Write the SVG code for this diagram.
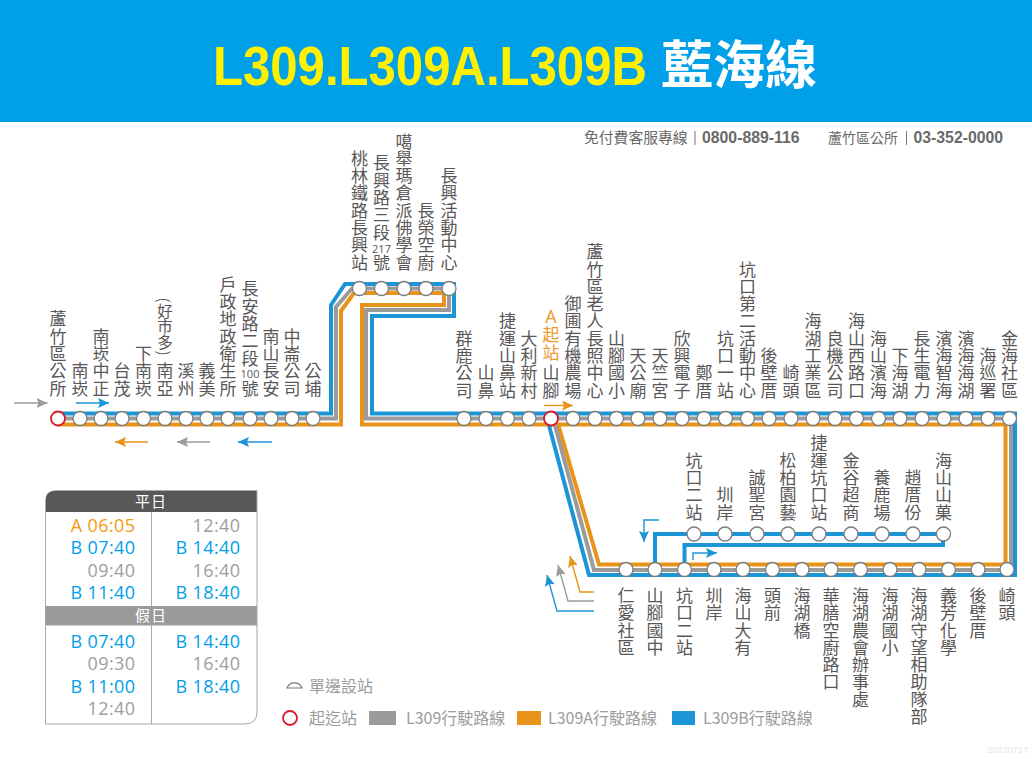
<svg xmlns="http://www.w3.org/2000/svg" width="1032" height="759" viewBox="0 0 1032 759">
<style>
text{font-family:"Noto Sans CJK TC","Liberation Sans",sans-serif}
.v{writing-mode:vertical-rl;text-orientation:upright;font-size:17px;letter-spacing:.3px;fill:#595757;text-anchor:end}
.m{text-orientation:mixed}
.t{text-anchor:start}
.n{font-family:"Open Sans",sans-serif;font-size:11px;fill:#595757;text-anchor:middle}
circle.s{fill:#fff;stroke:#7b7b7b;stroke-width:1.3}
circle.r{fill:#fff;stroke:#d8182c;stroke-width:1.8}
.route{fill:none;stroke-width:4}
.b{stroke:#1b95d6}.g{stroke:#9b9b9b}.o{stroke:#e8931a}
.a{fill:none;stroke-width:1.4}
.tm{font-family:"Open Sans",sans-serif;font-size:18px;letter-spacing:.4px;text-anchor:end}
.tb{fill:#00a0e9}.tg{fill:#9e9e9e}.to{fill:#f39a0f}
.th{font-size:15px;fill:#fff;text-anchor:middle;letter-spacing:1px}
.c{font-size:14.8px;fill:#6a6a6a}
.cb{font-family:"Liberation Sans",sans-serif;font-size:15.8px;font-weight:700;fill:#6a6a6a}
.l{font-size:16px;fill:#9c9c9c}
</style>
<defs>
<marker id="ab" markerUnits="userSpaceOnUse" markerWidth="12" markerHeight="10" refX="11" refY="5" orient="auto"><path d="M0,0L11,5L0,10L2,5Z" fill="#1b95d6"/></marker>
<marker id="ag" markerUnits="userSpaceOnUse" markerWidth="12" markerHeight="10" refX="11" refY="5" orient="auto"><path d="M0,0L11,5L0,10L2,5Z" fill="#9b9b9b"/></marker>
<marker id="ao" markerUnits="userSpaceOnUse" markerWidth="12" markerHeight="10" refX="11" refY="5" orient="auto"><path d="M0,0L11,5L0,10L2,5Z" fill="#e8931a"/></marker>
</defs>
<rect width="1032" height="759" fill="#fff"/>
<g id="header">
<rect width="1032" height="122" fill="#00a0e9"/>
<text transform="translate(213,84.500) scale(.877,1)" font-size="56" font-weight="700" fill="#fff000" style="font-family:'Liberation Sans',sans-serif">L309.L309A.L309B</text>
<text x="661" y="84" font-size="52" font-weight="700" fill="#fff">藍海線</text>
</g>
<g id="contact">
<text x="584" y="143" class="c">免付費客服專線</text><rect x="694.500" y="131" width="1" height="14" fill="#777"/>
<text x="702" y="143" class="cb">0800-889-116</text>
<text x="828" y="143" class="c" style="font-size:14px">蘆竹區公所</text><rect x="906" y="131" width="1" height="14" fill="#777"/>
<text x="913.500" y="143" class="cb">03-352-0000</text>
</g>
<g id="connectors">
<path class="route o" d="M58,424.500H341V311L354,293H444V305H362V424.500H1005.500V564.500H599L558,424"/>
<path class="route g" d="M58,418.500H336V307L352,288.500H449V310H366V418.500H1011V570H594L553,418"/>
<path class="route b" d="M58,413.500H331V305L345,284H454V316H372V413.500H1015V575H589L547,418"/>
<path class="route b" d="M655,570V534H944"/>
<path class="route b" d="M684.500,570V545H943V534"/>
<path class="a g" marker-end="url(#ag)" d="M14,403H47.500"/>
<path class="a b" marker-end="url(#ab)" d="M76,403H109"/>
<path class="a o" marker-end="url(#ao)" d="M148,442H115"/>
<path class="a g" marker-end="url(#ag)" d="M210,442H177"/>
<path class="a b" marker-end="url(#ab)" d="M272,442H238"/>
<path class="a o" marker-end="url(#ao)" d="M544,405.500H573"/>
<path class="a b" marker-end="url(#ab)" d="M659,520H644V542"/>
<path class="a b" marker-end="url(#ab)" d="M693,560V553H717"/>
<path class="a o" marker-end="url(#ao)" d="M594,592H580L570,556"/>
<path class="a g" marker-end="url(#ag)" d="M594,601H568L558,565"/>
<path class="a b" marker-end="url(#ab)" d="M594,611H557L547,575"/>
</g>
<g id="n1"><circle class="r" cx="58" cy="418.500" r="7"/><text class="v" x="58" y="397">蘆竹區公所</text></g>
<g id="n2"><circle class="s" cx="80" cy="418.500" r="7"/><text class="v" x="80" y="397">南崁</text></g>
<g id="n3"><circle class="s" cx="101" cy="418.500" r="7"/><text class="v" x="101" y="397">南崁中正</text></g>
<g id="n4"><circle class="s" cx="122" cy="418.500" r="7"/><text class="v" x="122" y="397">台茂</text></g>
<g id="n5"><circle class="s" cx="143.500" cy="418.500" r="7"/><text class="v" x="143.500" y="397">下南崁</text></g>
<g id="n6"><circle class="s" cx="165" cy="418.500" r="7"/><text class="v" x="165" y="397">南亞</text><text class="v m" x="165" y="356" style="font-size:15.5px">(好市多)</text></g>
<g id="n7"><circle class="s" cx="186" cy="418.500" r="7"/><text class="v" x="186" y="397">溪州</text></g>
<g id="n8"><circle class="s" cx="207" cy="418.500" r="7"/><text class="v" x="207" y="397">義美</text></g>
<g id="n9"><circle class="s" cx="228" cy="418.500" r="7"/><text class="v" x="228" y="397">戶政地政衛生所</text></g>
<g id="n10"><circle class="s" cx="250" cy="418.500" r="7"/><text class="v" x="250" y="367">長安路二段</text><text class="n" x="250" y="378">100</text><text class="v" x="250" y="397">號</text></g>
<g id="n11"><circle class="s" cx="271" cy="418.500" r="7"/><text class="v" x="271" y="397">南山長安</text></g>
<g id="n12"><circle class="s" cx="292" cy="418.500" r="7"/><text class="v" x="292" y="397">中崙公司</text></g>
<g id="n13"><circle class="s" cx="313" cy="418.500" r="7"/><text class="v" x="313" y="397">公埔</text></g>
<g id="n14"><circle class="s" cx="359.500" cy="288.500" r="7"/><text class="v" x="359.500" y="271">桃林鐵路長興站</text></g>
<g id="n15"><circle class="s" cx="381.500" cy="288.500" r="7"/><text class="v" x="381.500" y="241">長興路三段</text><text class="n" x="381.500" y="253">217</text><text class="v" x="381.500" y="271">號</text></g>
<g id="n16"><circle class="s" cx="404" cy="288.500" r="7"/><text class="v" x="404" y="271">噶舉瑪倉派佛學會</text></g>
<g id="n17"><circle class="s" cx="426" cy="288.500" r="7"/><text class="v" x="426" y="271">長榮空廚</text></g>
<g id="n18"><circle class="s" cx="449" cy="288.500" r="7"/><text class="v" x="449" y="271">長興活動中心</text></g>
<g id="n19"><circle class="s" cx="464" cy="418.500" r="7"/><text class="v" x="464" y="399">群鹿公司</text></g>
<g id="n20"><circle class="s" cx="486" cy="418.500" r="7"/><text class="v" x="486" y="399">山鼻</text></g>
<g id="n21"><circle class="s" cx="507.500" cy="418.500" r="7"/><text class="v" x="507.500" y="399">捷運山鼻站</text></g>
<g id="n22"><circle class="s" cx="529" cy="418.500" r="7"/><text class="v" x="529" y="399">大利新村</text></g>
<g id="n23"><circle class="r" cx="551" cy="418.500" r="7"/><text class="v" x="551" y="399">山腳</text><text class="v" x="551" y="361" style="fill:#ee9a2c">起站</text><text x="551" y="323" font-size="18" text-anchor="middle" fill="#ee9a2c" style="font-family:'Open Sans',sans-serif">A</text></g>
<g id="n24"><circle class="s" cx="573" cy="418.500" r="7"/><text class="v" x="573" y="399">御圃有機農場</text></g>
<g id="n25"><circle class="s" cx="595" cy="418.500" r="7"/><text class="v" x="595" y="399">蘆竹區老人長照中心</text></g>
<g id="n26"><circle class="s" cx="616.500" cy="418.500" r="7"/><text class="v" x="616.500" y="399">山腳國小</text></g>
<g id="n27"><circle class="s" cx="638" cy="418.500" r="7"/><text class="v" x="638" y="399">天公廟</text></g>
<g id="n28"><circle class="s" cx="660" cy="418.500" r="7"/><text class="v" x="660" y="399">天竺宮</text></g>
<g id="n29"><circle class="s" cx="682" cy="418.500" r="7"/><text class="v" x="682" y="399">欣興電子</text></g>
<g id="n30"><circle class="s" cx="704" cy="418.500" r="7"/><text class="v" x="704" y="399">鄭厝</text></g>
<g id="n31"><circle class="s" cx="725.500" cy="418.500" r="7"/><text class="v" x="725.500" y="399">坑口一站</text></g>
<g id="n32"><circle class="s" cx="747.500" cy="418.500" r="7"/><text class="v" x="747.500" y="399">坑口第二活動中心</text></g>
<g id="n33"><circle class="s" cx="769" cy="418.500" r="7"/><text class="v" x="769" y="399">後壁厝</text></g>
<g id="n34"><circle class="s" cx="791" cy="418.500" r="7"/><text class="v" x="791" y="399">崎頭</text></g>
<g id="n35"><circle class="s" cx="813" cy="418.500" r="7"/><text class="v" x="813" y="399">海湖工業區</text></g>
<g id="n36"><circle class="s" cx="835" cy="418.500" r="7"/><text class="v" x="835" y="399">良機公司</text></g>
<g id="n37"><circle class="s" cx="856.500" cy="418.500" r="7"/><text class="v" x="856.500" y="399">海山西路口</text></g>
<g id="n38"><circle class="s" cx="878.500" cy="418.500" r="7"/><text class="v" x="878.500" y="399">海山濱海</text></g>
<g id="n39"><circle class="s" cx="900" cy="418.500" r="7"/><text class="v" x="900" y="399">下海湖</text></g>
<g id="n40"><circle class="s" cx="922" cy="418.500" r="7"/><text class="v" x="922" y="399">長生電力</text></g>
<g id="n41"><circle class="s" cx="944" cy="418.500" r="7"/><text class="v" x="944" y="399">濱海智海</text></g>
<g id="n42"><circle class="s" cx="966" cy="418.500" r="7"/><text class="v" x="966" y="399">濱海海湖</text></g>
<g id="n43"><circle class="s" cx="988" cy="418.500" r="7"/><text class="v" x="988" y="399">海巡署</text></g>
<g id="n44"><circle class="s" cx="1009.500" cy="418.500" r="7"/><text class="v" x="1009.500" y="399">金海社區</text></g>
<g id="n45"><circle class="s" cx="694" cy="534" r="7"/><text class="v" x="694" y="521">坑口二站</text></g>
<g id="n46"><circle class="s" cx="725" cy="534" r="7"/><text class="v" x="725" y="521">圳岸</text></g>
<g id="n47"><circle class="s" cx="757" cy="534" r="7"/><text class="v" x="757" y="521">誠聖宮</text></g>
<g id="n48"><circle class="s" cx="788" cy="534" r="7"/><text class="v" x="788" y="521">松柏園藝</text></g>
<g id="n49"><circle class="s" cx="819" cy="534" r="7"/><text class="v" x="819" y="521">捷運坑口站</text></g>
<g id="n50"><circle class="s" cx="851" cy="534" r="7"/><text class="v" x="851" y="521">金谷超商</text></g>
<g id="n51"><circle class="s" cx="882" cy="534" r="7"/><text class="v" x="882" y="521">養鹿場</text></g>
<g id="n52"><circle class="s" cx="913" cy="534" r="7"/><text class="v" x="913" y="521">趙厝份</text></g>
<g id="n53"><circle class="s" cx="943.500" cy="534" r="7"/><text class="v" x="943.500" y="521">海山山菓</text></g>
<g id="n54"><circle class="s" cx="626" cy="569.500" r="7"/><text class="v t" x="626" y="587">仁愛社區</text></g>
<g id="n55"><circle class="s" cx="655" cy="569.500" r="7"/><text class="v t" x="655" y="587">山腳國中</text></g>
<g id="n56"><circle class="s" cx="684.500" cy="569.500" r="7"/><text class="v t" x="684.500" y="587">坑口二站</text></g>
<g id="n57"><circle class="s" cx="714" cy="569.500" r="7"/><text class="v t" x="714" y="587">圳岸</text></g>
<g id="n58"><circle class="s" cx="743" cy="569.500" r="7"/><text class="v t" x="743" y="587">海山大有</text></g>
<g id="n59"><circle class="s" cx="772.500" cy="569.500" r="7"/><text class="v t" x="772.500" y="587">頭前</text></g>
<g id="n60"><circle class="s" cx="802" cy="569.500" r="7"/><text class="v t" x="802" y="587">海湖橋</text></g>
<g id="n61"><circle class="s" cx="831" cy="569.500" r="7"/><text class="v t" x="831" y="587">華膳空廚路口</text></g>
<g id="n62"><circle class="s" cx="860.500" cy="569.500" r="7"/><text class="v t" x="860.500" y="587">海湖農會辦事處</text></g>
<g id="n63"><circle class="s" cx="890" cy="569.500" r="7"/><text class="v t" x="890" y="587">海湖國小</text></g>
<g id="n64"><circle class="s" cx="919" cy="569.500" r="7"/><text class="v t" x="919" y="587">海湖守望相助隊部</text></g>
<g id="n65"><circle class="s" cx="948.500" cy="569.500" r="7"/><text class="v t" x="948.500" y="587">義芳化學</text></g>
<g id="n66"><circle class="s" cx="978" cy="569.500" r="7"/><text class="v t" x="978" y="587">後壁厝</text></g>
<g id="n67"><circle class="s" cx="1007" cy="569.500" r="7"/><text class="v t" x="1007" y="587">崎頭</text></g>
<g id="timetable">
<path d="M45.500,512V501Q45.500,490.500 56,490.500H257V512Z" fill="#595757"/>
<rect x="45.500" y="606" width="211.500" height="19.500" fill="#9a9a9a"/>
<path d="M45.500,512V724H245Q257,724 257,712V490.500M151.500,512V606M151.500,625V724" fill="none" stroke="#a8a8a8" stroke-width="1"/>
<text class="th" x="151" y="507">平日</text>
<text class="th" x="151" y="621">假日</text>
<text class="tm to" x="135.500" y="532">A 06:05</text>
<text class="tm tb" x="135.500" y="554">B 07:40</text>
<text class="tm tg" x="135.500" y="576.500">09:40</text>
<text class="tm tb" x="135.500" y="598.500">B 11:40</text>
<text class="tm tg" x="240.500" y="532">12:40</text>
<text class="tm tb" x="240.500" y="554">B 14:40</text>
<text class="tm tg" x="240.500" y="576.500">16:40</text>
<text class="tm tb" x="240.500" y="598.500">B 18:40</text>
<text class="tm tb" x="135.500" y="648">B 07:40</text>
<text class="tm tg" x="135.500" y="670">09:30</text>
<text class="tm tb" x="135.500" y="692.500">B 11:00</text>
<text class="tm tg" x="135.500" y="715">12:40</text>
<text class="tm tb" x="240.500" y="648">B 14:40</text>
<text class="tm tg" x="240.500" y="670">16:40</text>
<text class="tm tb" x="240.500" y="692.500">B 18:40</text>
</g>
<g id="legend">
<path d="M287,688A8,8 0 0 1 302,688Z" fill="none" stroke="#777" stroke-width="1.2"/>
<text class="l" x="309" y="692">單邊設站</text>
<circle cx="290" cy="718" r="7" fill="#fff" stroke="#d8182c" stroke-width="1.8"/>
<text class="l" x="309" y="724">起迄站</text>
<rect x="369" y="711" width="27" height="14" fill="#9b9b9b"/>
<text class="l" x="406" y="724">L309行駛路線</text>
<rect x="517" y="711" width="24" height="14" fill="#e8931a"/>
<text class="l" x="548" y="724">L309A行駛路線</text>
<rect x="672" y="711" width="23" height="14" fill="#1b95d6"/>
<text class="l" x="703" y="724">L309B行駛路線</text>
</g>
<text x="987" y="753" font-size="9.300" fill="#e8e8e8" style="font-family:'Liberation Sans',sans-serif">20230717</text>
</svg>
